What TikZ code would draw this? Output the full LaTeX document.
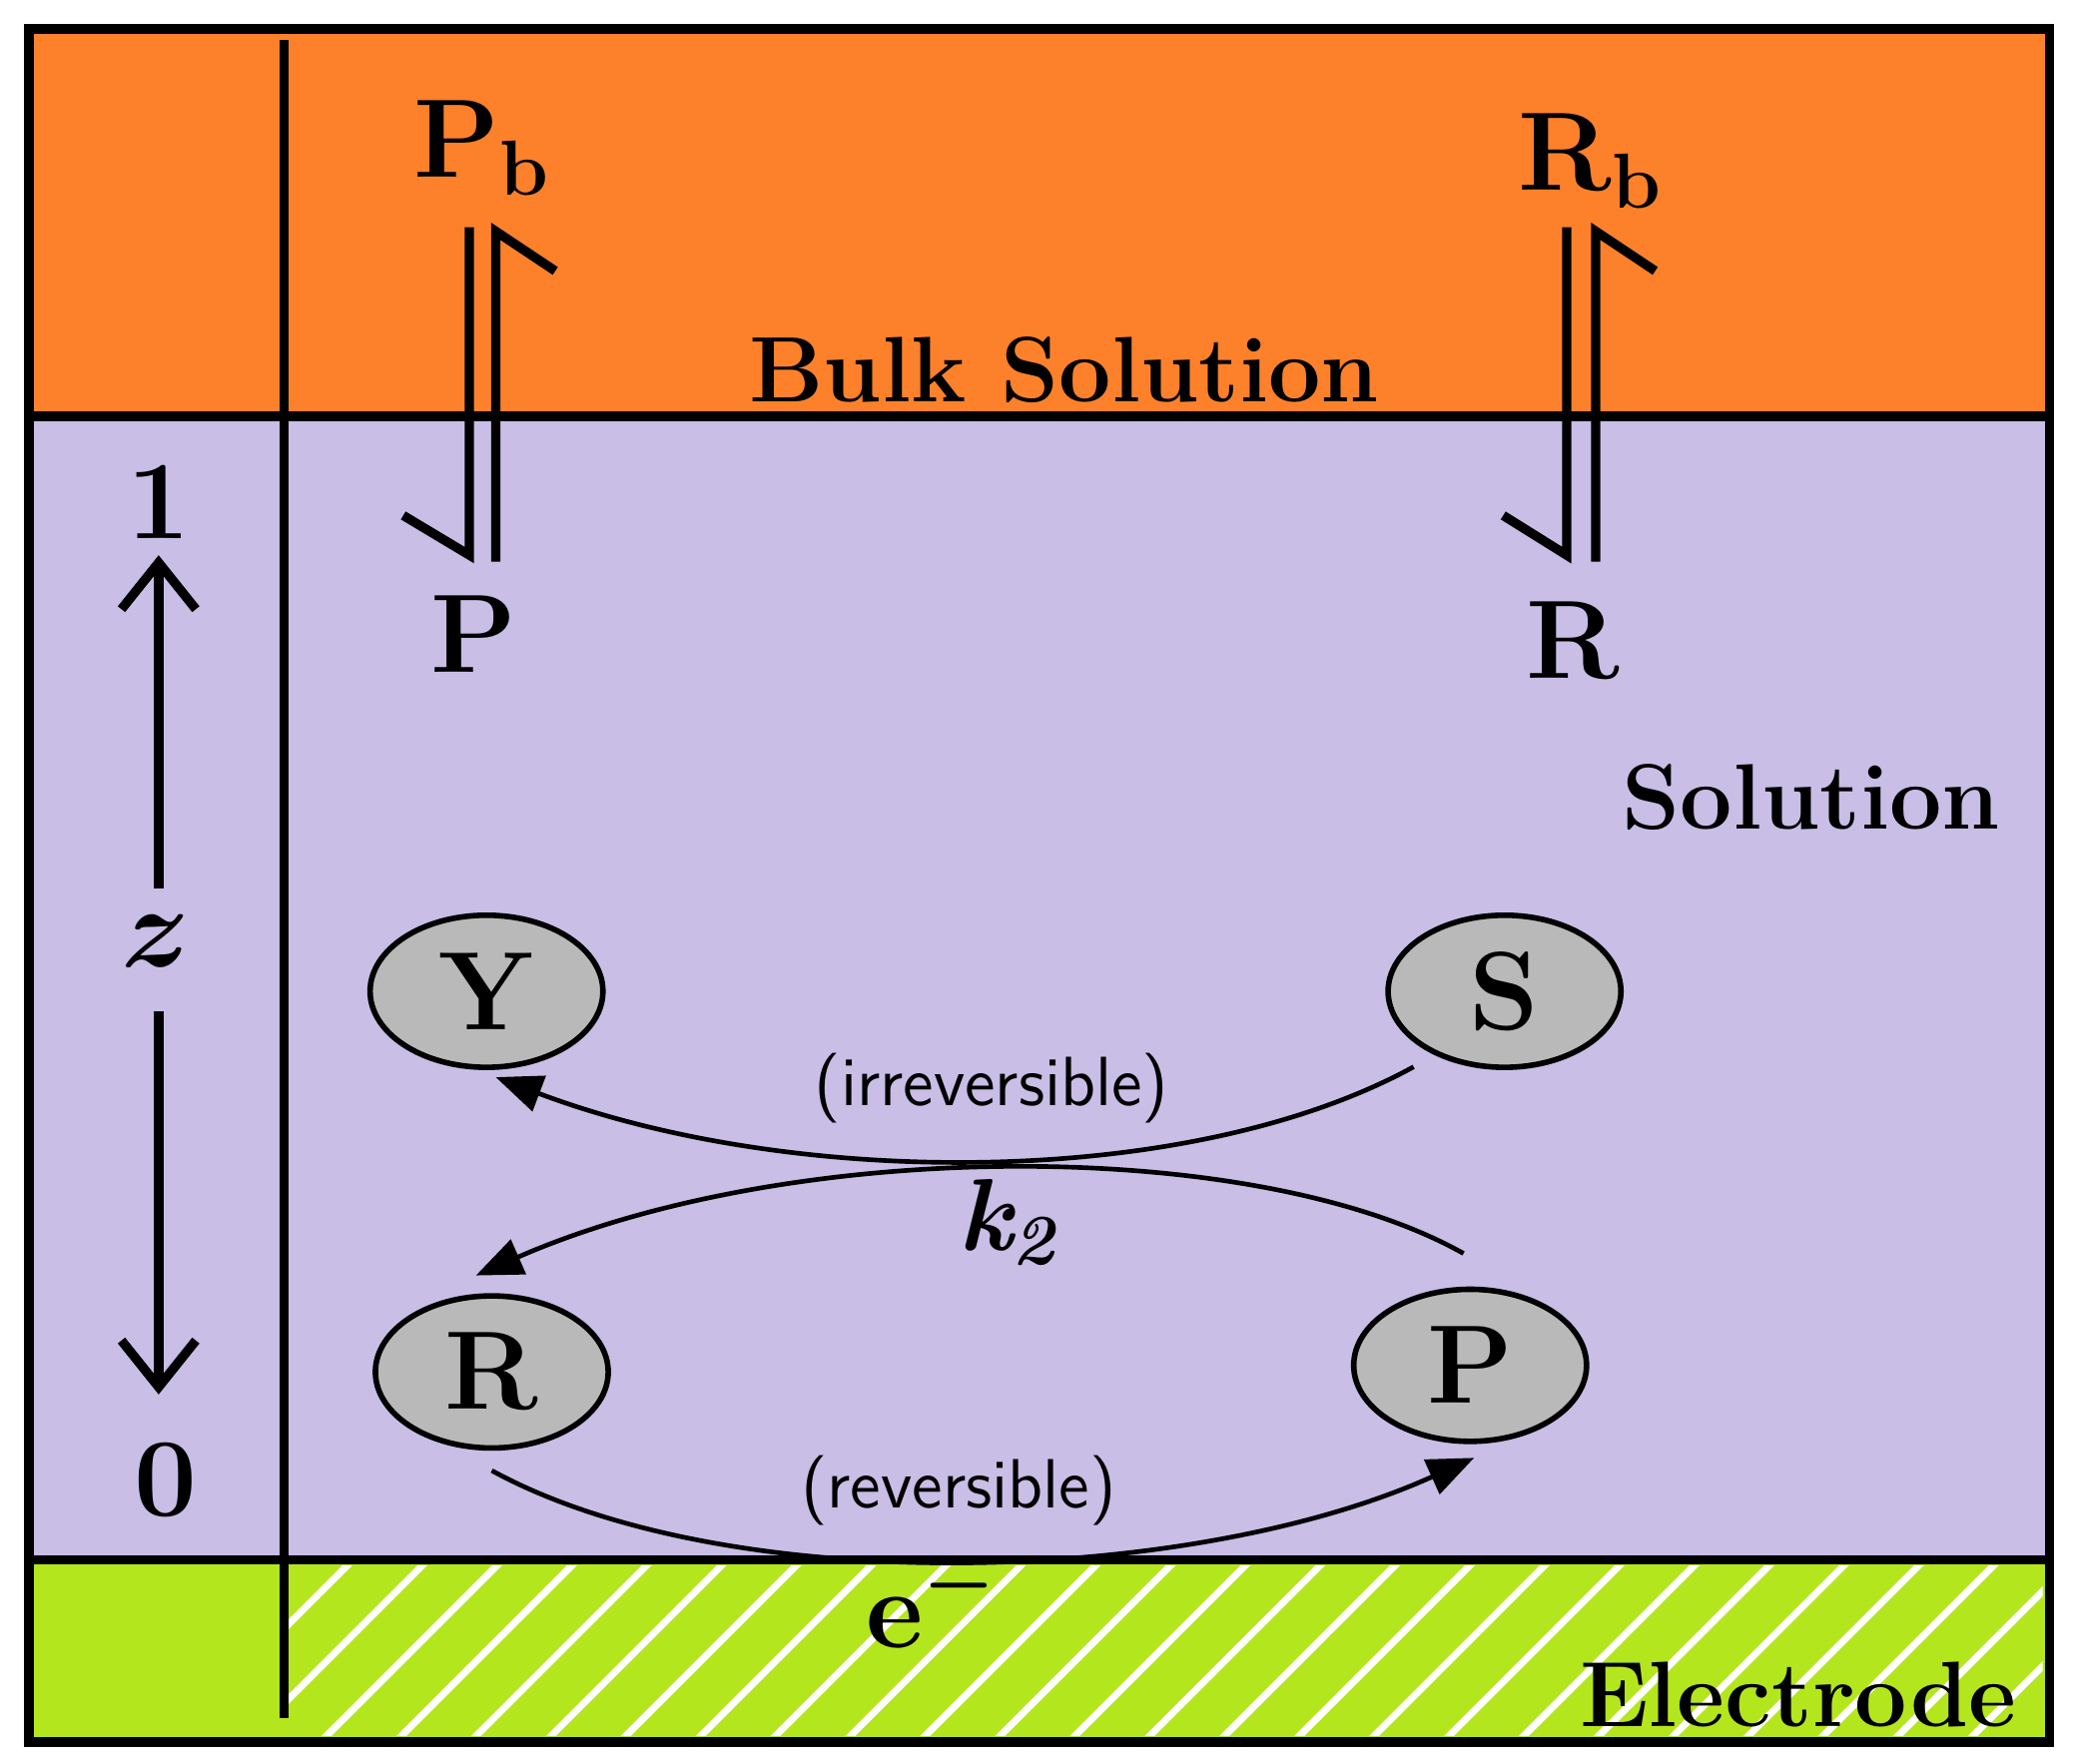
\documentclass[tikz,border=0pt]{standalone}
\usepackage{amsmath}
\usetikzlibrary{arrows.meta,patterns.meta,shapes.geometric}
\definecolor{bulk}{RGB}{253,129,42}
\definecolor{sol}{RGB}{200,190,230}
\definecolor{elec}{RGB}{180,230,30}
\tikzset{
  big/.style={font=\fontsize{24}{24}\selectfont\bfseries},
  mid/.style={font=\fontsize{20}{20}\selectfont\bfseries},
  lbl/.style={font=\fontsize{15}{15}\selectfont\sffamily},
  spec/.style={ellipse,draw=black,line width=1.2pt,fill=gray!55,minimum width=1.76cm,minimum height=1.15cm,inner sep=0pt,font=\fontsize{24}{24}\selectfont\bfseries},
  harp/.style={line width=2pt},
  arr/.style={line width=1pt,-{Triangle[length=10pt,width=8pt]}},
  zarr/.style={line width=2pt,-{Straight Barb[length=10pt,width=16pt]}}
}
\begin{document}
\begin{tikzpicture}[x=0.01cm,y=-0.01cm]
\useasboundingbox (0,0) rectangle (1568,1334);
% layers
\fill[bulk] (22,22) rectangle (1550,315);
\fill[sol] (22,315) rectangle (1550,1180);
\fill[elec] (22,1180) rectangle (1550,1318);
\fill[pattern={Lines[angle=45,distance=0.4cm,line width=1.5pt]},pattern color=white] (215,1185) rectangle (1545,1313);
\draw[line width=2pt] (22,22) rectangle (1550,1318);
\draw[line width=2pt] (22,315) -- (1550,315);
\draw[line width=2pt] (22,1180) -- (1550,1180);
\draw[line width=2pt] (215,30) -- (215,1300);
% labels
\node[big] (pb) at (365,112) {P\textsubscript{b}};
\node[big] (rb) at (1203,122) {R\textsubscript{b}};
\node[big] (p) at (358,480) {P};
\node[big] (r) at (1190,485) {R};
\node[mid] (bulk) at (805,280) {Bulk Solution};
\node[mid] (solution) at (1370,603) {Solution};
\node[mid] (electrode) at (1360,1282) {Electrode};
\node[big] (e) at (705,1212) {e$^{\boldsymbol{-}}$};
% equilibrium harpoons
\draw[harp] (355,172) -- (355,420) -- (305,390);
\draw[harp] (375,425) -- (375,175) -- (420,205);
\draw[harp] (1185,172) -- (1185,420) -- (1137,390);
\draw[harp] (1207,425) -- (1207,175) -- (1252,205);
% z axis
\node[big] (one) at (120,380) {1};
\node[big] (zero) at (125,1120) {0};
\node[font=\fontsize{26}{26}\selectfont\bfseries\itshape] (z) at (118,712) {$\boldsymbol{z}$};
\coordinate (ztop) at (120,672);
\coordinate (zbot) at (120,765);
\coordinate (zend) at (120,1055);
\draw[zarr] (ztop) -- (one.south);
\draw[zarr] (zbot) -- (zend);
% species
\node[spec] (Y) at (368,750) {Y};
\node[spec] (S) at (1138,750) {S};
\node[spec] (R) at (372,1038) {R};
\node[spec] (P) at (1112,1033) {P};
% reactions
\draw[arr] (S.south west) ++(-5,15) .. controls (900,900) and (600,900) .. (375,815);
\draw[arr] (P.north) ++(-5,-25) .. controls (950,860) and (600,860) .. (360,965);
\draw[arr] (R.south) ++(0,15) .. controls (550,1210) and (900,1200) .. (1115,1103);
\node[lbl] (irr) at (750,823) {(irreversible)};
\node[lbl] (rev) at (725,1128) {(reversible)};
\node[font=\fontsize{22}{22}\selectfont\bfseries\itshape] (k2) at (762,925) {k\textsubscript{2}};
\end{tikzpicture}
\end{document}
